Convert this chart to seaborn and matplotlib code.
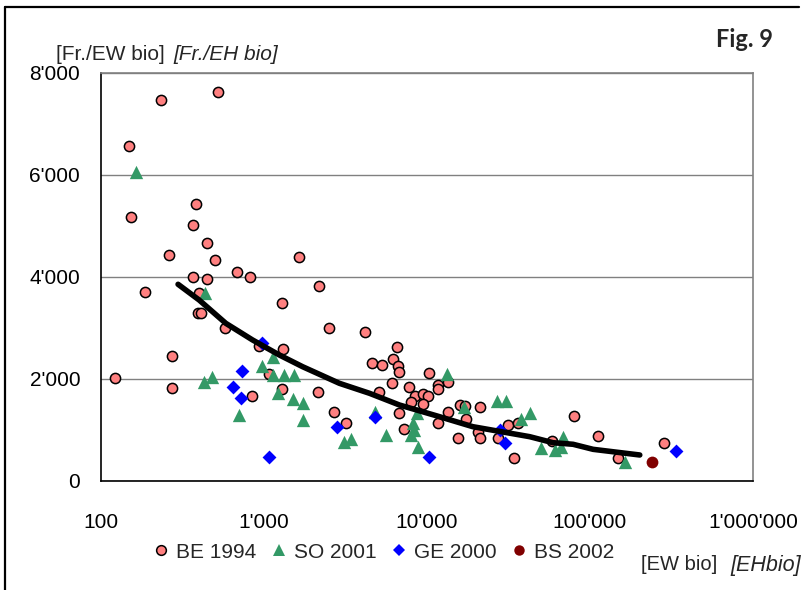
import matplotlib
matplotlib.use("Agg")
import matplotlib.pyplot as plt
from matplotlib import font_manager
from matplotlib.lines import Line2D
from matplotlib.ticker import FixedLocator, FuncFormatter, NullLocator
import pandas as pd
import seaborn as sns

# --- data -------------------------------------------------------------
be_x = [233, 519, 149, 153, 380, 369, 448, 262, 502, 687, 1648, 369, 450, 820,
        186, 2188, 400, 1282, 391, 413, 578, 2518, 4188, 935, 1313, 274, 122,
        271, 840, 1076, 1290, 2135, 2704, 3190, 4580, 5310, 6110, 5110, 6165,
        6520, 6650, 6700, 6700, 7194, 7800, 8490, 8000, 9500, 10120, 9500,
        10350, 11650, 11650, 13430, 11650, 13430, 16000, 17000, 17400, 15450,
        21000, 20500, 21000, 27200, 31400, 36200, 34100, 58700, 79800, 112000,
        148600, 285000]
be_y = [7470, 7633, 6575, 5170, 5437, 5013, 4660, 4425, 4339, 4104, 4386, 3994,
        3955, 3994, 3712, 3830, 3680, 3484, 3288, 3288, 3006, 3006, 2928, 2653,
        2582, 2451, 2026, 1829, 1673, 2098, 1798, 1751, 1359, 1131, 2307, 2268,
        1915, 1751, 2386, 2621, 2261, 2143, 1339, 1014, 1837, 1673, 1555, 1706,
        1673, 1510, 2112, 1882, 1798, 1947, 1131, 1359, 1490, 1480, 1210, 849,
        1445, 967, 849, 849, 1098, 1131, 457, 784, 1280, 888, 445, 739]

so_x = [165, 434, 430, 483, 698, 979, 1130, 1130, 1330, 1535, 1227, 1514, 1726,
        1726, 3110, 3420, 5610, 4810, 8190, 8370, 8000, 8770, 8700, 13300,
        16980, 26860, 30350, 37900, 42660, 50350, 60700, 68200, 66400, 165000]
so_y = [6065, 3692, 1935, 2033, 1294, 2255, 2437, 2078, 2078, 2078, 1731, 1602,
        1523, 1196, 771, 818, 902, 1359, 1131, 1000, 902, 673, 1327, 2098, 1445,
        1569, 1569, 1210, 1327, 641, 608, 869, 673, 366]

ge_x = [966, 738, 641, 721, 1067, 2790, 4810, 10260, 27900, 29900, 335000]
ge_y = [2700, 2163, 1849, 1621, 476, 1065, 1261, 476, 1000, 751, 588]

bs_x = [240000]
bs_y = [373]

trend_x = [297, 400, 583, 851, 1241, 1726, 2898, 4436, 6780, 11400, 19100,
           42660, 59300, 78700, 104500, 202000]
trend_y = [3857, 3549, 3092, 2765, 2471, 2241, 1916, 1720, 1490, 1280, 1065,
           869, 751, 720, 621, 510]

series_labels = ["BE 1994", "SO 2001", "GE 2000", "BS 2002"]
x_ticks = [100, 1_000, 10_000, 100_000, 1_000_000]
y_ticks = [0, 2_000, 4_000, 6_000, 8_000]

# --- style ------------------------------------------------------------
sns.set_theme(style="white")
available = {f.name for f in font_manager.fontManager.ttflist}
base_font = "Liberation Sans" if "Liberation Sans" in available else "DejaVu Sans"
plt.rcParams["font.family"] = [base_font, "DejaVu Sans"]

C_BE = "#FF8080"
C_SO = "#339966"
C_GE = "#0000FF"
C_BS = "#800000"
FS = 15

W, H = 804, 590
fig = plt.figure(figsize=(W / 100, H / 100), dpi=100)
fig.patch.set_facecolor("white")

# plot area in pixel coordinates
L, R, T, B = 101, 753, 73, 481
ax = fig.add_axes([L / W, 1 - B / H, (R - L) / W, (B - T) / H])

frames = {
    "BE": pd.DataFrame({"x": be_x, "y": be_y}),
    "SO": pd.DataFrame({"x": so_x, "y": so_y}),
    "GE": pd.DataFrame({"x": ge_x, "y": ge_y}),
    "BS": pd.DataFrame({"x": bs_x, "y": bs_y}),
}

sns.scatterplot(data=frames["BE"], x="x", y="y", ax=ax, marker="o", s=54,
                color=C_BE, edgecolor="black", linewidth=1.1, zorder=3,
                legend=False)
sns.scatterplot(data=frames["SO"], x="x", y="y", ax=ax, marker="^", s=92,
                color=C_SO, linewidth=0, zorder=4, legend=False)
sns.scatterplot(data=frames["GE"], x="x", y="y", ax=ax, marker="D", s=50,
                color=C_GE, linewidth=0, zorder=4, legend=False)
sns.scatterplot(data=frames["BS"], x="x", y="y", ax=ax, marker="o", s=72,
                color=C_BS, linewidth=0, zorder=4, legend=False)

trend = pd.DataFrame({"x": trend_x, "y": trend_y})
sns.lineplot(data=trend, x="x", y="y", ax=ax, color="black", linewidth=4.0,
             sort=False, zorder=6, solid_capstyle="round", legend=False)

# --- axes -------------------------------------------------------------
ax.set_xscale("log")
ax.set_xlim(100, 1_000_000)
ax.set_ylim(0, 8000)


def apostrophe(v, _pos=None):
    return f"{int(round(v)):,}".replace(",", "'")


ax.xaxis.set_major_locator(FixedLocator(x_ticks))
ax.xaxis.set_minor_locator(NullLocator())
ax.xaxis.set_major_formatter(FuncFormatter(apostrophe))
ax.yaxis.set_major_locator(FixedLocator(y_ticks))
ax.yaxis.set_major_formatter(FuncFormatter(apostrophe))

ax.set_xlabel("")
ax.set_ylabel("")
ax.yaxis.grid(True, color="#808080", linewidth=1.0)
ax.xaxis.grid(False)
ax.set_axisbelow(True)

for side in ("left", "bottom"):
    ax.spines[side].set_color("black")
    ax.spines[side].set_linewidth(1.2)
for side in ("right", "top"):
    ax.spines[side].set_color("#808080")
    ax.spines[side].set_linewidth(1.2)

ax.tick_params(axis="both", which="major", direction="out", length=6,
               width=1, color="black", labelsize=FS, labelcolor="black")
ax.tick_params(axis="y", pad=9)
ax.tick_params(axis="x", pad=17)

# --- texts ------------------------------------------------------------
fig.text(56 / W, 1 - 54 / H, "[Fr./EW bio]", fontsize=FS, ha="left",
         va="center")
fig.text(173 / W, 1 - 54 / H, "[Fr./EH bio]", fontsize=FS, ha="left",
         va="center", style="italic")

fig.text(641 / W, 1 - 565 / H, "[EW bio]", fontsize=14.5, ha="left",
         va="center")
fig.text(801 / W, 1 - 565 / H, "[EHbio]", fontsize=15.5, ha="right",
         va="center", style="italic")

fig.text(773 / W, 1 - 47 / H, "Fig. 9", fontsize=17, ha="right",
         va="baseline", fontweight="bold", family=["Lato", "DejaVu Sans"])

# --- legend -----------------------------------------------------------
handles = [
    Line2D([], [], ls="", marker="o", markersize=7.0, markerfacecolor=C_BE,
           markeredgecolor="black", markeredgewidth=1.1),
    Line2D([], [], ls="", marker="^", markersize=8.5, markerfacecolor=C_SO,
           markeredgewidth=0),
    Line2D([], [], ls="", marker="D", markersize=6.0, markerfacecolor=C_GE,
           markeredgewidth=0),
    Line2D([], [], ls="", marker="o", markersize=7.5, markerfacecolor=C_BS,
           markeredgewidth=0),
]
fig.legend(handles, series_labels, loc="center",
           bbox_to_anchor=(384 / W, 1 - 552 / H), ncol=4, frameon=False,
           fontsize=FS, handlelength=0.7, handletextpad=0.35,
           columnspacing=0.75, borderpad=0, borderaxespad=0)

# outer frame (left and top edges)
fig.add_artist(Line2D([5.5 / W, 5.5 / W], [0, 1 - 7 / H], color="black",
                      linewidth=1.6, transform=fig.transFigure))
fig.add_artist(Line2D([5 / W, 799 / W], [1 - 7 / H, 1 - 7 / H], color="black",
                      linewidth=1.6, transform=fig.transFigure))

fig.savefig("out.png", dpi=100)
